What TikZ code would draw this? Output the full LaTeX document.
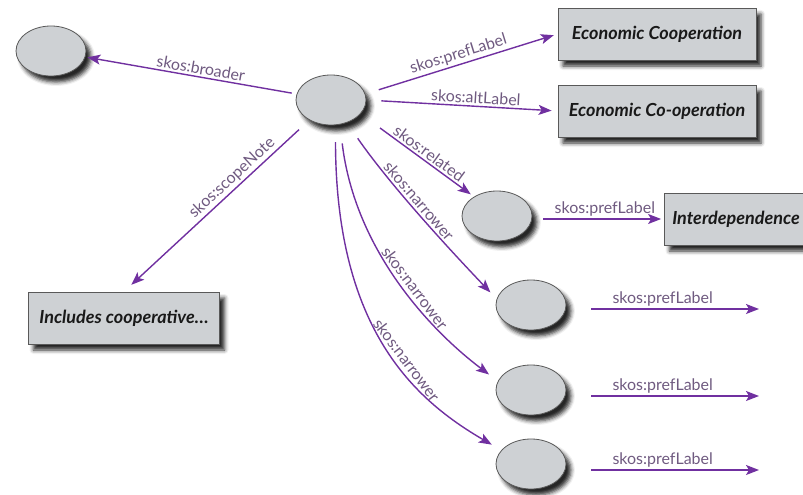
\documentclass[tikz,border=0pt]{standalone}
\usepackage{fontspec}
\setmainfont{Lato}
\usetikzlibrary{arrows.meta,shapes.geometric,shadows.blur}
\definecolor{relline}{HTML}{7030A0}
\definecolor{reltext}{HTML}{6F5A80}
\definecolor{nodefill}{HTML}{CED1D4}
\definecolor{nodeline}{HTML}{595959}

\tikzset{
  >={Stealth[length=13pt,width=10pt,inset=3pt]},
  softshadow/.style={blur shadow={shadow xshift=5pt, shadow yshift=-6pt,
      shadow blur radius=4pt, shadow opacity=85}},
  concept/.style={ellipse, draw=nodeline, fill=nodefill, line width=0.8pt,
      minimum width=70pt, minimum height=50pt, inner sep=0pt, softshadow},
  literal/.style={rectangle, draw=nodeline, fill=nodefill, line width=0.8pt,
      minimum height=52pt, text=black!90,
      font=\bfseries\itshape\fontsize{18}{21}\selectfont, softshadow},
  rel/.style={draw=relline, line width=1.4pt},
  rellabel/.style={font=\fontsize{16}{18}\selectfont, text=reltext,
      sloped, above, inner sep=2pt},
}

\begin{document}
\begin{tikzpicture}[x=1pt,y=-1pt]
\useasboundingbox (0,0) rectangle (803,495);
\clip (0,0) rectangle (803,495);

% concepts
\node[concept] (c)  at (331,100) {};
\node[concept] (b)  at (51,51)   {};
\node[concept] (r)  at (497,216) {};
\node[concept] (n1) at (531,305) {};
\node[concept] (n2) at (531,390) {};
\node[concept] (n3) at (531,464) {};

% literals
\node[literal, minimum width=198pt] (e1) at (657,34)  {Economic Cooperation};
\node[literal, minimum width=198pt] (e2) at (657,111) {Economic Co-operation};
\node[literal, minimum width=143pt] (id) at (736,219) {Interdependence};
\node[literal, minimum width=191pt] (sn) at (124,318) {Includes cooperative\dots};

% free ends of the prefLabel arrows
\coordinate (p1) at (759,309);
\coordinate (p2) at (759,396);
\coordinate (p3) at (759,470);

% straight relations
\draw[rel,<-,shorten <=2pt,shorten >=5pt] (b) -- node[rellabel,pos=.54]{skos:broader} (c);
\draw[rel,<-,shorten <=10pt,shorten >=14pt] (sn.north) -- node[rellabel,pos=.62]{skos:scopeNote} (c);
\draw[rel,->,shorten <=14pt,shorten >=4pt] (c.10) -- node[rellabel,pos=.5]{skos:prefLabel} (e1.west);
\draw[rel,->,shorten <=15pt,shorten >=6pt] (c.east) -- node[rellabel,pos=.57]{skos:altLabel} (e2.west);
\draw[rel,->,shorten <=24pt,shorten >=4pt] (c.-25) -- node[rellabel,pos=.56]{skos:related} (r.140);
\draw[rel,->,shorten <=11pt,shorten >=3pt] (r.east |- id.west) -- node[rellabel,pos=.55]{skos:prefLabel} (id.west);

% narrower relations
\draw[rel,->,shorten <=19pt,shorten >=9pt] (c.-55) .. controls (390,185) and (450,250) .. (n1.170)
  node[rellabel,pos=.45]{skos:narrower};
\draw[rel,->,shorten <=19pt,shorten >=11pt] (c.-70) .. controls (355,250) and (430,330) .. (n2.165)
  node[rellabel,pos=.55]{skos:narrower};
\draw[rel,->,shorten <=17pt,shorten >=11pt] (c.-80) .. controls (336,330) and (415,400) .. (n3.155)
  node[rellabel,pos=.57]{skos:narrower};

% labels of the narrower concepts
\draw[rel,->,shorten <=25pt] (n1.east |- p1) -- node[rellabel]{skos:prefLabel} (p1);
\draw[rel,->,shorten <=25pt] (n2.east |- p2) -- node[rellabel]{skos:prefLabel} (p2);
\draw[rel,->,shorten <=25pt] (n3.east |- p3) -- node[rellabel]{skos:prefLabel} (p3);
\end{tikzpicture}
\end{document}
